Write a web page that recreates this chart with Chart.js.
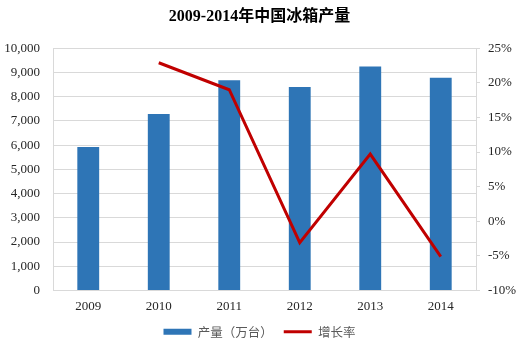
<!DOCTYPE html>
<html>
<head>
<meta charset="utf-8">
<script src="https://cdn.jsdelivr.net/npm/chart.js@4"></script>
<style>
  html, body { margin: 0; padding: 0; background: #fff; }
  #wrap { width: 517px; height: 351px; }
</style>
</head>
<body>
<div id="wrap"><canvas id="chart"></canvas></div>
<script>
// Data
const years = ['2009', '2010', '2011', '2012', '2013', '2014'];
const output = [5920, 7280, 8680, 8400, 9240, 8780];   // 产量（万台）
const growth = [null, 22.9, 19.0, -3.1, 9.7, -5.1];    // 增长率 %

const serif = '"Liberation Serif", "Noto Sans CJK SC", serif';
const cjk = '"Noto Sans CJK SC", sans-serif';

const ctx = document.getElementById('chart').getContext('2d');
new Chart(ctx, {
  data: {
    labels: years,
    datasets: [
      {
        type: 'bar',
        label: '产量（万台）',
        data: output,
        backgroundColor: '#2E75B6',
        borderWidth: 0,
        barPercentage: 0.31,
        categoryPercentage: 1,
        pointStyle: 'rect',
        yAxisID: 'y',
        order: 1,
      },
      {
        type: 'line',
        label: '增长率',
        data: growth,
        borderColor: '#C00000',
        backgroundColor: '#C00000',
        borderWidth: 3,
        pointRadius: 0,
        pointStyle: 'line',
        tension: 0,
        yAxisID: 'y1',
        order: 0,
      },
    ],
  },
  options: {
    responsive: true,
    maintainAspectRatio: false,
    animation: false,
    layout: { padding: { left: 3, right: 1, top: 0, bottom: 3 } },
    plugins: {
      title: {
        display: true,
        text: '2009-2014年中国冰箱产量',
        color: '#000',
        font: { family: serif, size: 16, weight: 'bold' },
        padding: { top: 7, bottom: 22 },
      },
      legend: {
        position: 'bottom',
        labels: {
          usePointStyle: true,
          pointStyleWidth: 28,
          boxHeight: 6,
          color: '#595959',
          font: { family: cjk, size: 12.5 },
          padding: 11,
          sort: (a, b) => a.datasetIndex - b.datasetIndex,
        },
      },
      tooltip: { enabled: false },
    },
    scales: {
      x: {
        offset: true,
        grid: { display: false, drawTicks: false },
        border: { color: '#d9d9d9' },
        ticks: { color: '#262626', font: { family: serif, size: 13 }, padding: 8 },
        afterFit: s => { s.height = 24; },
      },
      y: {
        position: 'left',
        min: 0,
        max: 10000,
        ticks: {
          stepSize: 1000,
          color: '#262626',
          font: { family: serif, size: 13 },
          padding: 13,
          callback: v => v.toLocaleString('en-US'),
        },
        grid: { color: '#d9d9d9', drawTicks: false },
        border: { color: '#d9d9d9' },
        afterFit: s => { s.width = 50; },
      },
      y1: {
        position: 'right',
        min: -10,
        max: 25,
        ticks: {
          stepSize: 5,
          color: '#262626',
          font: { family: serif, size: 13 },
          padding: 8,
          callback: v => v + '%',
        },
        grid: { drawOnChartArea: false, color: '#d9d9d9', tickLength: 4 },
        border: { color: '#d9d9d9' },
        afterFit: s => { s.width = 40; },
      },
    },
  },
});
</script>
</body>
</html>
